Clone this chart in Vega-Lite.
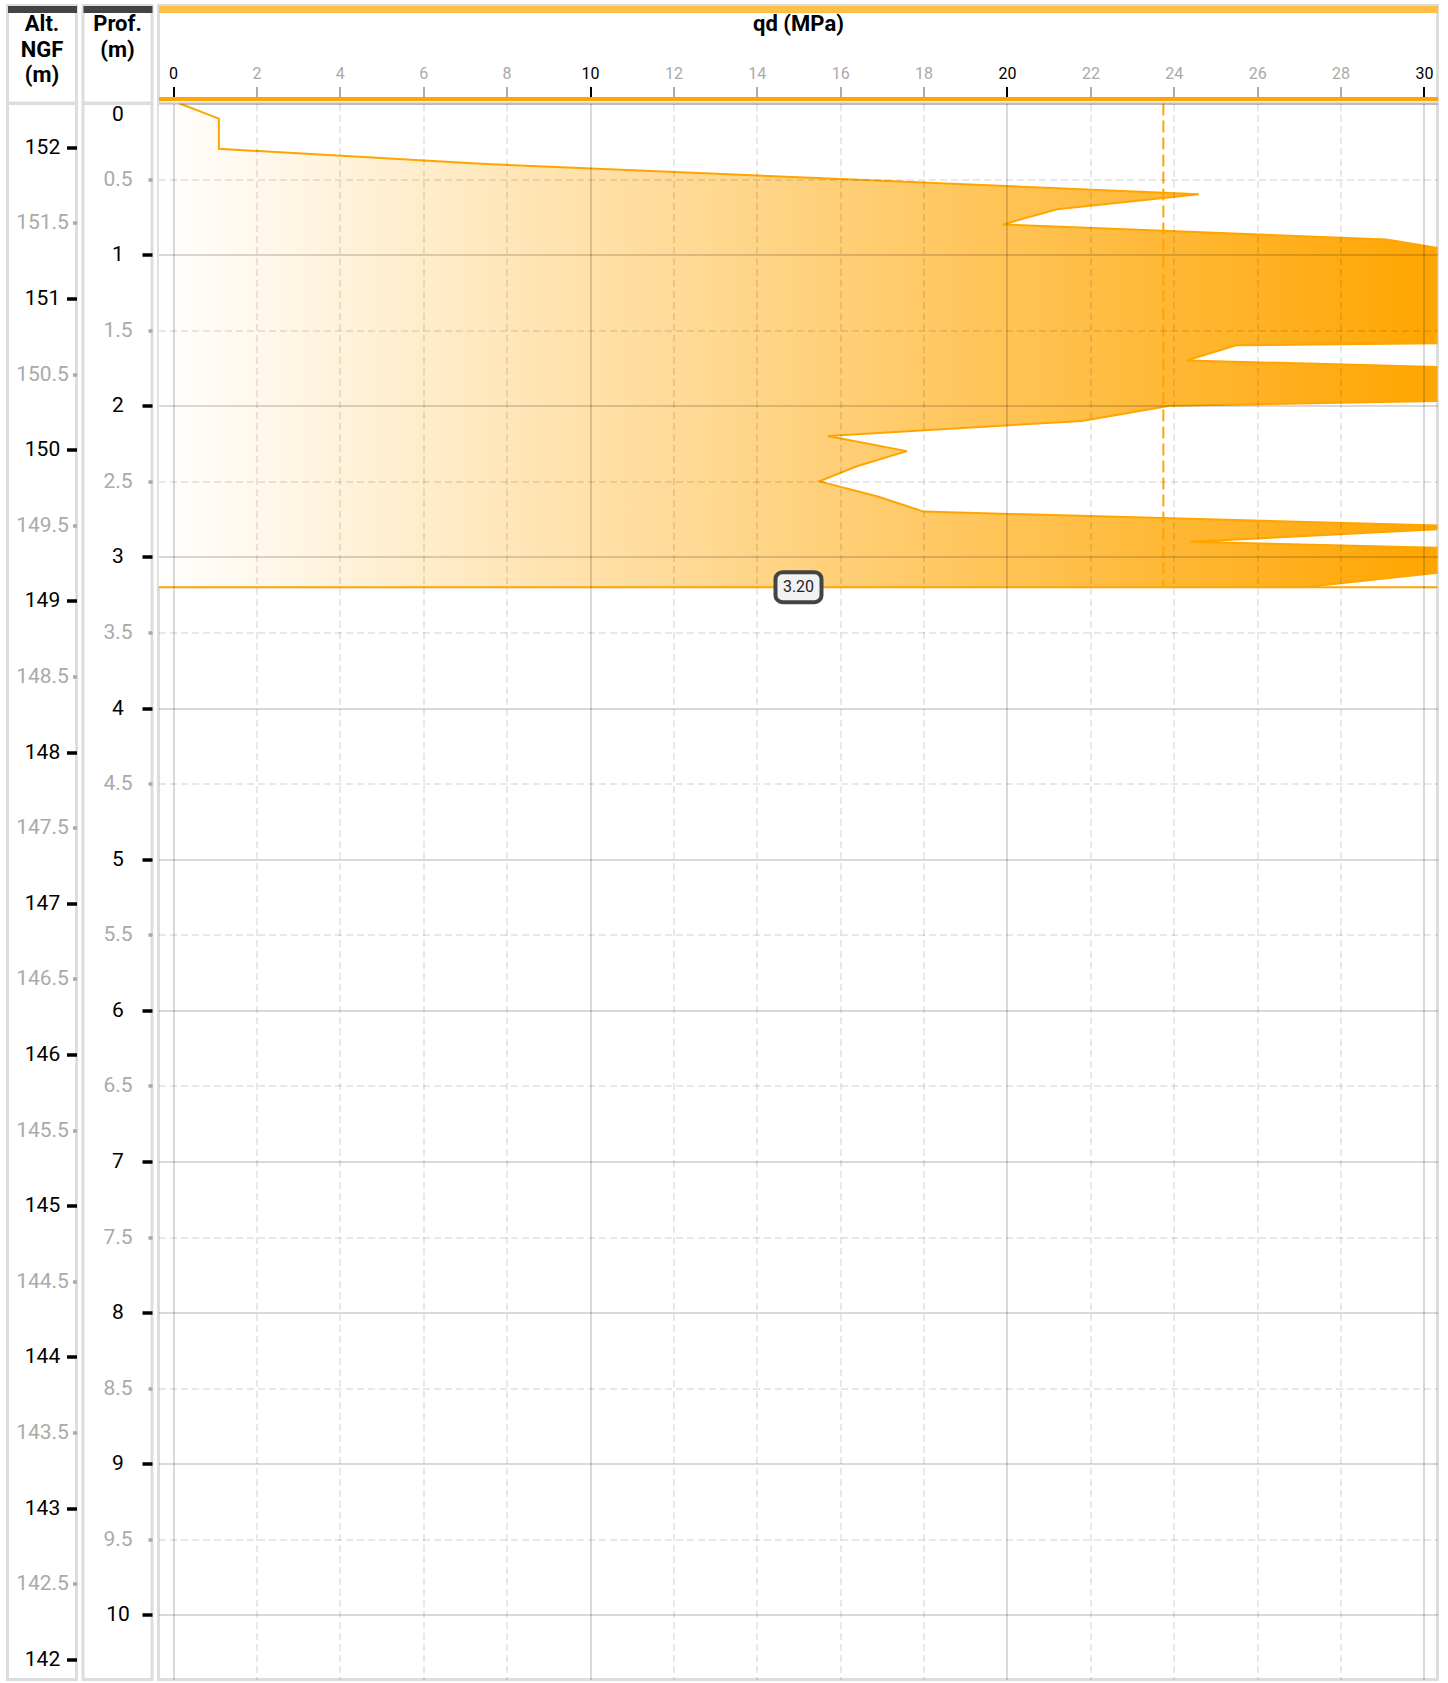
{
  "$schema": "https://vega.github.io/schema/vega-lite/v6.json",
  "background": "#ffffff",
  "padding": {"left": 5.5, "top": 3.5, "right": 0, "bottom": 0},
  "config": {
    "font": "Roboto",
    "view": {"stroke": "#dddddd", "strokeWidth": 3}
  },
  "datasets": {
    "headers": [
      {"col": "alt", "label": "Alt.\nNGF\n(m)"},
      {"col": "prof", "label": "Prof.\n(m)"},
      {"col": "qd", "label": "qd (MPa)"}
    ],
    "origin": [{"alt": 152.29, "depth": 0}],
    "profile": [
      {"depth": 0.0, "qd": 0.16}, {"depth": 0.1, "qd": 1.1}, {"depth": 0.2, "qd": 1.1}, {"depth": 0.3, "qd": 1.1},
      {"depth": 0.4, "qd": 7.5}, {"depth": 0.5, "qd": 16.0}, {"depth": 0.6, "qd": 24.6}, {"depth": 0.7, "qd": 21.2},
      {"depth": 0.8, "qd": 19.9}, {"depth": 0.9, "qd": 29.1}, {"depth": 1.0, "qd": 31.3}, {"depth": 1.1, "qd": 34},
      {"depth": 1.2, "qd": 38}, {"depth": 1.3, "qd": 42}, {"depth": 1.4, "qd": 48}, {"depth": 1.5, "qd": 60},
      {"depth": 1.6, "qd": 25.5}, {"depth": 1.7, "qd": 24.3}, {"depth": 1.8, "qd": 38.3}, {"depth": 1.9, "qd": 44},
      {"depth": 2.0, "qd": 23.9}, {"depth": 2.1, "qd": 21.8}, {"depth": 2.2, "qd": 15.7}, {"depth": 2.3, "qd": 17.6},
      {"depth": 2.4, "qd": 16.4}, {"depth": 2.5, "qd": 15.5}, {"depth": 2.6, "qd": 16.9}, {"depth": 2.7, "qd": 18.0},
      {"depth": 2.8, "qd": 31.5}, {"depth": 2.9, "qd": 24.4}, {"depth": 3.0, "qd": 39.6}, {"depth": 3.1, "qd": 30.5},
      {"depth": 3.2, "qd": 27.1}
    ],
    "refusal": [{"depth": 3.2, "label": "3.20"}],
    "meanline": [{"qd": 23.75, "top": 0, "bottom": 3.2}]
  },
  "columns": 3,
  "spacing": {"row": 0, "column": 6.5},
  "bounds": "flush",
  "concat": [
    {
      "width": 69, "height": 97.5,
      "data": {"name": "headers"},
      "transform": [{"filter": "datum.col === 'alt'"}],
      "mark": {"type": "text", "font": "Roboto", "fontSize": 22, "fontWeight": "bold", "color": "#000000", "lineBreak": "\n", "lineHeight": 25.5, "baseline": "top", "dy": -40},
      "encoding": {
        "text": {"field": "label"},
        "x": {"datum": 0.5, "type": "quantitative", "scale": {"domain": [0, 1], "nice": false, "zero": false},
              "axis": {"orient": "top", "offset": -3.5, "domain": true, "domainColor": "#444444", "domainWidth": 7, "ticks": false, "labels": false, "grid": false, "title": null}}
      }
    },
    {
      "width": 69, "height": 97.5,
      "data": {"name": "headers"},
      "transform": [{"filter": "datum.col === 'prof'"}],
      "mark": {"type": "text", "font": "Roboto", "fontSize": 22, "fontWeight": "bold", "color": "#000000", "lineBreak": "\n", "lineHeight": 25.5, "baseline": "top", "dy": -40},
      "encoding": {
        "text": {"field": "label"},
        "x": {"datum": 0.5, "type": "quantitative", "scale": {"domain": [0, 1], "nice": false, "zero": false},
              "axis": {"orient": "top", "offset": -3.5, "domain": true, "domainColor": "#444444", "domainWidth": 7, "ticks": false, "labels": false, "grid": false, "title": null}}
      }
    },
    {
      "width": 1279, "height": 97.5,
      "data": {"name": "headers"},
      "transform": [{"filter": "datum.col === 'qd'"}],
      "layer": [
        {
          "mark": {"type": "text", "font": "Roboto", "fontSize": 22, "fontWeight": "bold", "color": "#000000", "baseline": "top", "dy": -40},
          "encoding": {
            "text": {"field": "label"},
            "y": {"datum": 0.5, "type": "quantitative", "scale": {"domain": [0, 1], "nice": false, "zero": false}, "axis": null},
            "x": {"datum": 15, "type": "quantitative", "scale": {"domain": [-0.348, 30.324], "nice": false, "zero": false},
                  "axis": {"orient": "top", "offset": -3.5, "domain": true, "domainColor": "#ffbf47", "domainWidth": 7, "ticks": false, "labels": false, "grid": false, "title": null}}
          }
        },
        {
          "mark": {"type": "point", "opacity": 0},
          "encoding": {
            "y": {"datum": 0.5, "type": "quantitative", "axis": null},
            "x": {"datum": 15, "type": "quantitative",
                  "axis": {"orient": "top", "offset": -93, "values": [0, 2, 4, 6, 8, 10, 12, 14, 16, 18, 20, 22, 24, 26, 28, 30],
                           "domain": true, "domainColor": "#ffa500", "domainWidth": 4,
                           "tickSize": 12, "tickWidth": 2,
                           "tickColor": {"condition": {"test": "datum.value % 10 === 0", "value": "#000000"}, "value": "#aaaaaa"},
                           "labelColor": {"condition": {"test": "datum.value % 10 === 0", "value": "#000000"}, "value": "#aaaaaa"},
                           "labelFont": "Roboto", "labelFontSize": 16, "labelPadding": 5, "labelFlush": false, "labelOverlap": false,
                           "grid": false, "title": null}}
          }
        }
      ],
      "resolve": {"axis": {"x": "independent"}}
    },
    {
      "width": 69, "height": 1576,
      "data": {"name": "origin"},
      "mark": {"type": "point", "opacity": 0},
      "encoding": {
        "y": {"field": "alt", "type": "quantitative", "scale": {"domain": [141.867, 152.29], "nice": false, "zero": false},
              "axis": {"orient": "left", "offset": -69, "format": "~g",
                       "values": [142, 142.5, 143, 143.5, 144, 144.5, 145, 145.5, 146, 146.5, 147, 147.5, 148, 148.5, 149, 149.5, 150, 150.5, 151, 151.5, 152],
                       "domain": false, "tickSize": 10, "tickWidth": 3.5,
                       "tickColor": {"condition": {"test": "datum.value % 1 === 0", "value": "#000000"}, "value": "#aaaaaa"},
                       "tickDash": {"condition": {"test": "datum.value % 1 !== 0", "value": [4, 30]}, "value": []},
                       "labelAlign": "center", "labelPadding": 24.5, "labelFont": "Roboto", "labelFontSize": 21,
                       "labelColor": {"condition": {"test": "datum.value % 1 === 0", "value": "#000000"}, "value": "#aaaaaa"},
                       "labelOverlap": false, "labelFlush": false, "grid": false, "title": null}}
      }
    },
    {
      "width": 69, "height": 1576,
      "data": {"name": "origin"},
      "mark": {"type": "point", "opacity": 0},
      "encoding": {
        "y": {"field": "depth", "type": "quantitative", "scale": {"domain": [0, 10.427], "reverse": true, "nice": false, "zero": false},
              "axis": {"orient": "left", "offset": -69, "format": "~g",
                       "values": [0, 0.5, 1, 1.5, 2, 2.5, 3, 3.5, 4, 4.5, 5, 5.5, 6, 6.5, 7, 7.5, 8, 8.5, 9, 9.5, 10],
                       "domain": false, "tickSize": 10, "tickWidth": 3.5,
                       "tickColor": {"condition": {"test": "datum.value % 1 === 0", "value": "#000000"}, "value": "#aaaaaa"},
                       "tickOpacity": {"condition": {"test": "datum.value === 0", "value": 0}, "value": 1},
                       "tickDash": {"condition": {"test": "datum.value % 1 !== 0", "value": [4, 30]}, "value": []},
                       "labelAlign": "center", "labelPadding": 24.5, "labelFont": "Roboto", "labelFontSize": 21,
                       "labelColor": {"condition": {"test": "datum.value % 1 === 0", "value": "#000000"}, "value": "#aaaaaa"},
                       "labelOverlap": false, "labelFlush": true, "labelFlushOffset": 0, "grid": false, "title": null}}
      }
    },
    {
      "width": 1279, "height": 1576,
      "layer": [
        {
          "data": {"name": "profile"},
          "mark": {"type": "area", "orient": "horizontal", "clip": true,
                   "fill": {"gradient": "linear", "x1": 0, "y1": 0, "x2": 1, "y2": 0,
                            "stops": [{"offset": 0, "color": "#ffffff"}, {"offset": 0.5082, "color": "#ffa500"}, {"offset": 1, "color": "#ffa500"}]}},
          "encoding": {
            "y": {"field": "depth", "type": "quantitative", "scale": {"domain": [0, 10.427], "reverse": true, "nice": false, "zero": false},
                  "axis": {"orient": "left", "values": [0, 0.5, 1, 1.5, 2, 2.5, 3, 3.5, 4, 4.5, 5, 5.5, 6, 6.5, 7, 7.5, 8, 8.5, 9, 9.5, 10],
                           "domain": false, "ticks": false, "labels": false, "title": null, "grid": true, "zindex": 1,
                           "gridColor": "#000000",
                           "gridOpacity": {"condition": {"test": "datum.value % 1 === 0", "value": 0.15}, "value": 0.12},
                           "gridWidth": {"condition": {"test": "datum.value % 1 === 0", "value": 2}, "value": 1.5},
                           "gridDash": {"condition": {"test": "datum.value % 1 === 0", "value": []}, "value": [7, 4]}}},
            "x": {"field": "qd", "type": "quantitative", "scale": {"domain": [-0.348, 30.324], "nice": false, "zero": false},
                  "axis": {"orient": "top", "values": [0, 2, 4, 6, 8, 10, 12, 14, 16, 18, 20, 22, 24, 26, 28, 30],
                           "domain": false, "ticks": false, "labels": false, "title": null, "grid": true, "zindex": 1,
                           "gridColor": "#000000",
                           "gridOpacity": {"condition": {"test": "datum.value % 10 === 0", "value": 0.15}, "value": 0.12},
                           "gridWidth": {"condition": {"test": "datum.value % 10 === 0", "value": 2}, "value": 1.5},
                           "gridDash": {"condition": {"test": "datum.value % 10 === 0", "value": []}, "value": [7, 4]}}},
            "x2": {"datum": -0.348}
          }
        },
        {
          "data": {"name": "profile"},
          "mark": {"type": "line", "color": "#ffa500", "strokeWidth": 2, "clip": true},
          "encoding": {
            "y": {"field": "depth", "type": "quantitative"},
            "x": {"field": "qd", "type": "quantitative"},
            "order": {"field": "depth", "type": "quantitative"}
          }
        },
        {
          "data": {"name": "refusal"},
          "mark": {"type": "rule", "color": "#ffa500", "strokeWidth": 2},
          "encoding": {
            "y": {"field": "depth", "type": "quantitative"}
          }
        },
        {
          "data": {"name": "meanline"},
          "mark": {"type": "rule", "color": "#ffa500", "strokeWidth": 2, "strokeDash": [12, 5]},
          "encoding": {
            "x": {"field": "qd", "type": "quantitative"},
            "y": {"field": "top", "type": "quantitative"},
            "y2": {"field": "bottom"}
          }
        },
        {
          "data": {"name": "refusal"},
          "mark": {"type": "point", "filled": true, "opacity": 1, "fill": "#f2f2f2", "stroke": "#444444", "strokeWidth": 4, "size": 2116,
                   "shape": "M-0.696,-0.652 L0.696,-0.652 A0.304,0.304 0 0 1 1,-0.348 L1,0.348 A0.304,0.304 0 0 1 0.696,0.652 L-0.696,0.652 A0.304,0.304 0 0 1 -1,0.348 L-1,-0.348 A0.304,0.304 0 0 1 -0.696,-0.652 Z"},
          "encoding": {
            "x": {"datum": 15, "type": "quantitative"},
            "y": {"field": "depth", "type": "quantitative"}
          }
        },
        {
          "data": {"name": "refusal"},
          "mark": {"type": "text", "font": "Roboto", "fontSize": 16, "color": "#222222"},
          "encoding": {
            "text": {"field": "label"},
            "x": {"datum": 15, "type": "quantitative"},
            "y": {"field": "depth", "type": "quantitative"}
          }
        }
      ]
    }
  ]
}
